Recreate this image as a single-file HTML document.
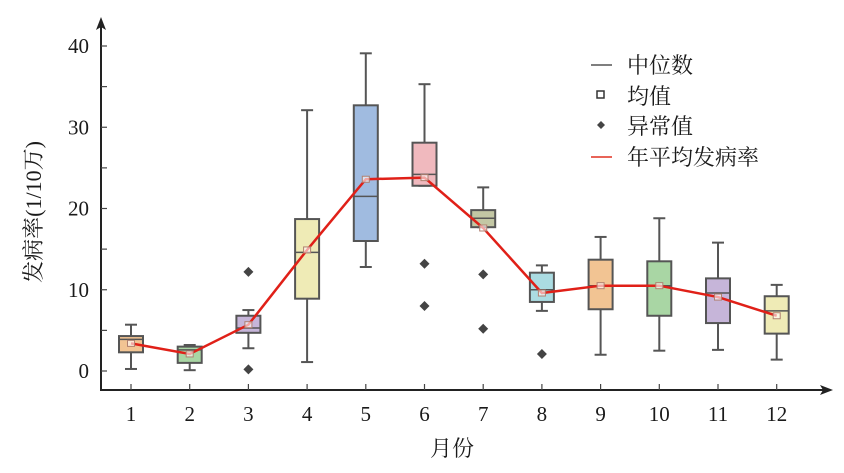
<!DOCTYPE html>
<html><head><meta charset="utf-8"><style>
body{margin:0;background:#fff}
svg{display:block}
text{font-family:"Liberation Serif","Noto Serif CJK SC",serif;fill:#1a1a1a}
</style></head><body>
<svg id="chart" width="844" height="473" viewBox="0 0 844 473">
<g id="axes"></g>
<g id="boxes"></g>
<g id="line"></g>
<g id="legend">
 <g><line x1="591" y1="65" x2="612" y2="65" stroke="#555" stroke-width="1.5"/><text x="627" y="73" font-size="22">中位数</text></g>
 <g><rect x="597" y="91" width="7" height="7" fill="#fff" stroke="#333" stroke-width="1.5"/><text x="627" y="104" font-size="22">均值</text></g>
 <g><path d="M601 121 L605 125 L601 129 L597 125Z" fill="#444"/><text x="627" y="134" font-size="22">异常值</text></g>
 <g><line x1="591" y1="157" x2="612" y2="157" stroke="#e03020" stroke-width="1.5"/><text x="627" y="165" font-size="22">年平均发病率</text></g>
</g>
<text x="452" y="456" font-size="22" text-anchor="middle">月份</text>
<text transform="translate(41,212) rotate(-90)" font-size="22" text-anchor="middle">发病率(1/10万)</text>
</svg>
<script>
const months=[1,2,3,4,5,6,7,8,9,10,11,12];
const whiskerLow=[0.25,0.1,2.8,1.1,12.8,22.8,17.7,7.4,2.0,2.5,2.6,1.4];
const q1=[2.3,1.0,4.7,8.9,16.0,22.8,17.7,8.5,7.6,6.8,5.9,4.6];
const medians=[3.9,2.6,5.3,14.6,21.5,24.2,18.8,10.0,10.5,10.5,9.6,7.4];
const q3=[4.3,3.0,6.8,18.7,32.7,28.1,19.8,12.1,13.7,13.5,11.4,9.2];
const whiskerHigh=[5.7,3.2,7.5,32.1,39.1,35.3,22.6,13.0,16.5,18.8,15.8,10.6];
const means=[3.4,2.1,5.7,14.9,23.6,23.8,17.6,9.6,10.5,10.5,9.1,6.8];
const outliers=[[],[],[12.2,0.2],[],[],[13.2,8.0],[11.9,5.2],[2.1],[],[],[],[]];
const yTicks=[0,10,20,30,40];
const colors=["#f2c493","#a9d6a4","#c6b5d9","#efebb6","#a0bbe0","#f0b9be","#c3c7a4","#abdce2","#f2c493","#a9d6a4","#c6b5d9","#efebb6"];
const NS="http://www.w3.org/2000/svg";
const X=m=>131+(m-1)*58.7;
const Y=v=>371-v*8.125;
function mk(tag,attrs,parent){const e=document.createElementNS(NS,tag);for(const k in attrs)e.setAttribute(k,attrs[k]);parent.appendChild(e);return e;}
const axes=document.getElementById('axes');
let a=mk('line',{x1:101,y1:391,x2:101,y2:24,stroke:'#222','stroke-width':2},axes);


a=mk('path',{d:'M101 17 L96 30 L101 27 L106 30Z',fill:'#222'},axes);


a=mk('line',{x1:100,y1:390,x2:826,y2:390,stroke:'#222','stroke-width':2},axes);


a=mk('path',{d:'M833 390 L820 385 L823 390 L820 395Z',fill:'#222'},axes);


for(let v=0;v<=40;v+=5){mk('line',{x1:101,y1:Y(v),x2:107,y2:Y(v),stroke:'#444','stroke-width':1.2},axes);}
yTicks.forEach(v=>{const t=mk('text',{x:89,y:Y(v)+7,'font-size':21,'text-anchor':'end'},axes);t.textContent=v;

});
months.forEach(m=>{mk('line',{x1:X(m),y1:390,x2:X(m),y2:384,stroke:'#444','stroke-width':1.2},axes);
const t=mk('text',{x:X(m),y:421,'font-size':21,'text-anchor':'middle'},axes);t.textContent=m;

});
const boxes=document.getElementById('boxes');
months.forEach((m,i)=>{const g=mk('g',{},boxes);


const x=X(m),w=24,st='#555';
mk('line',{x1:x,y1:Y(whiskerHigh[i]),x2:x,y2:Y(q3[i]),stroke:st,'stroke-width':2},g);
mk('line',{x1:x,y1:Y(q1[i]),x2:x,y2:Y(whiskerLow[i]),stroke:st,'stroke-width':2},g);
mk('line',{x1:x-6,y1:Y(whiskerHigh[i]),x2:x+6,y2:Y(whiskerHigh[i]),stroke:st,'stroke-width':2},g);
mk('line',{x1:x-6,y1:Y(whiskerLow[i]),x2:x+6,y2:Y(whiskerLow[i]),stroke:st,'stroke-width':2},g);
mk('rect',{x:x-w/2,y:Y(q3[i]),width:w,height:Y(q1[i])-Y(q3[i]),fill:colors[i],stroke:st,'stroke-width':2},g);
mk('line',{x1:x-w/2,y1:Y(medians[i]),x2:x+w/2,y2:Y(medians[i]),stroke:st,'stroke-width':1.5},g);
outliers[i].forEach(v=>{const p=mk('path',{d:`M${x} ${Y(v)-5} L${x+5} ${Y(v)} L${x} ${Y(v)+5} L${x-5} ${Y(v)}Z`,fill:'#444'},g);

});
});
const lg=document.getElementById('line');
const pl=mk('polyline',{points:months.map((m,i)=>X(m)+','+Y(means[i])).join(' '),fill:'none',stroke:'#e02018','stroke-width':2.5},lg);


months.forEach((m,i)=>{const r=mk('rect',{x:X(m)-3.5,y:Y(means[i])-3,width:7,height:6,fill:'#fff','fill-opacity':0.6,stroke:'#b08070','stroke-width':1},lg);

});
</script>
</body></html>
